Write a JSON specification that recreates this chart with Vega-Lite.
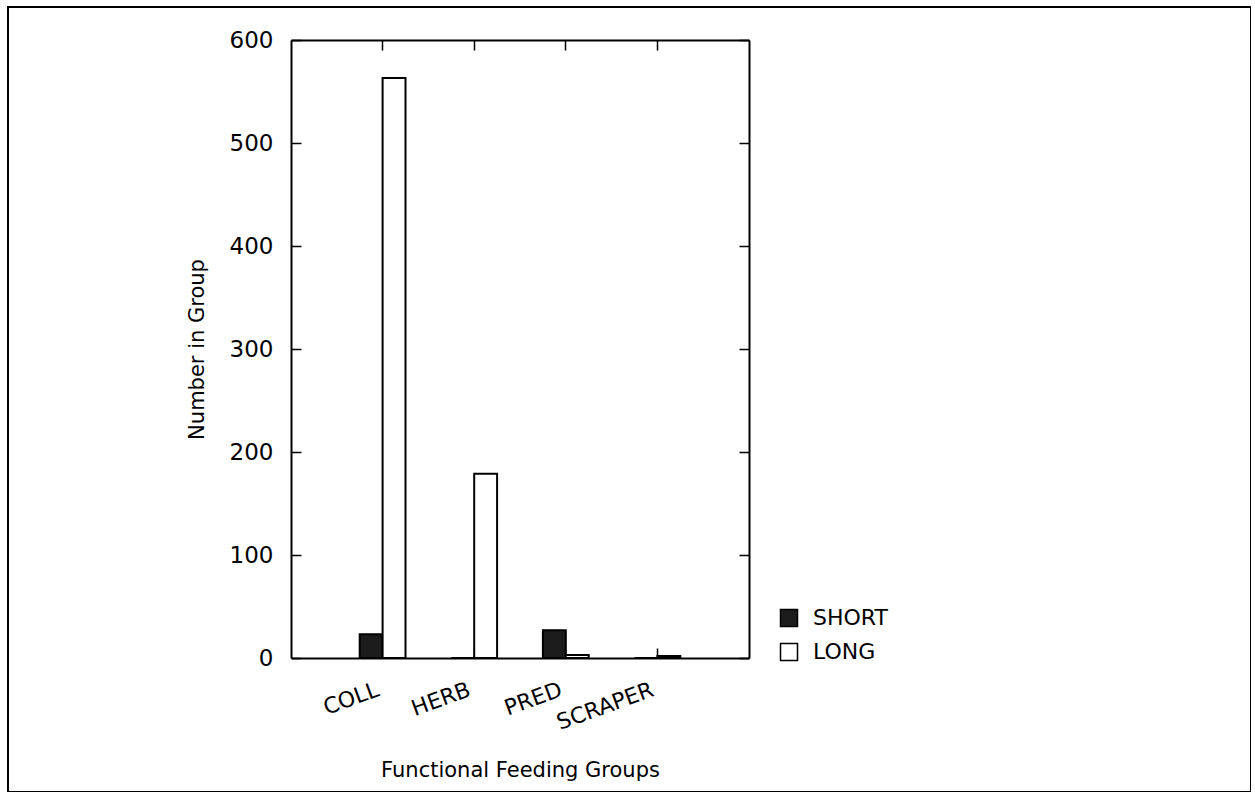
{
  "$schema": "https://vega.github.io/schema/vega-lite/v6.json",
  "width": 1243,
  "height": 785,
  "autosize": {"type": "none"},
  "padding": {"left": 8, "top": 7, "right": 0, "bottom": 0},
  "background": "white",
  "config": {
    "view": {"stroke": "black", "strokeWidth": 2},
    "font": "DejaVu Sans",
    "axis": {
      "domainColor": "black",
      "domainWidth": 2,
      "tickColor": "black",
      "tickWidth": 1.5,
      "grid": false,
      "labelColor": "black",
      "titleColor": "black",
      "labelFont": "DejaVu Sans",
      "titleFont": "DejaVu Sans",
      "titleFontWeight": "normal"
    },
    "legend": {
      "labelFont": "DejaVu Sans",
      "labelColor": "black"
    }
  },
  "data": {
    "values": [
      {"group": "COLL", "length": "SHORT", "count": 23},
      {"group": "COLL", "length": "LONG", "count": 563},
      {"group": "HERB", "length": "SHORT", "count": 0},
      {"group": "HERB", "length": "LONG", "count": 179},
      {"group": "PRED", "length": "SHORT", "count": 27},
      {"group": "PRED", "length": "LONG", "count": 3},
      {"group": "SCRAPER", "length": "SHORT", "count": 0},
      {"group": "SCRAPER", "length": "LONG", "count": 2}
    ]
  },
  "resolve": {"axis": {"x": "independent", "y": "independent"}},
  "layer": [
    {
      "mark": {"type": "bar", "stroke": "black", "strokeWidth": 2},
      "encoding": {
        "x": {
          "field": "group",
          "type": "nominal",
          "sort": ["COLL", "HERB", "PRED", "SCRAPER"],
          "scale": {"domain": ["COLL", "HERB", "PRED", "SCRAPER"], "range": [283, 741], "paddingInner": 0, "paddingOuter": 0.5},
          "axis": {
            "orient": "bottom",
            "offset": -134,
            "title": "Functional Feeding Groups",
            "titleFontSize": 21,
            "titlePadding": 26,
            "labelAngle": -20,
            "labelAlign": "right",
            "labelBaseline": "top",
            "labelFontSize": 22,
            "labelOffset": -8,
            "tickSize": -10,
            "labelPadding": 31
          }
        },
        "xOffset": {
          "field": "length",
          "type": "nominal",
          "scale": {"domain": ["SHORT", "LONG"], "paddingInner": 0, "paddingOuter": 1}
        },
        "y": {
          "field": "count",
          "type": "quantitative",
          "scale": {"domain": [0, 600], "range": [651, 33], "nice": false},
          "axis": {
            "orient": "left",
            "offset": -283,
            "values": [0, 100, 200, 300, 400, 500, 600],
            "title": "Number in Group",
            "titleFontSize": 21,
            "titlePadding": 22,
            "labelFontSize": 23,
            "tickSize": -10,
            "labelPadding": 28
          }
        },
        "color": {
          "field": "length",
          "type": "nominal",
          "scale": {"domain": ["SHORT", "LONG"], "range": ["#1c1c1c", "white"]},
          "legend": {
            "title": null,
            "orient": "none",
            "legendX": 770,
            "legendY": 600,
            "symbolType": "square",
            "symbolSize": 289,
            "symbolStrokeColor": "black",
            "symbolStrokeWidth": 1.5,
            "labelFontSize": 22,
            "labelOffset": 13,
            "rowPadding": 10,
            "padding": 0
          }
        }
      }
    },
    {
      "mark": {"type": "bar", "opacity": 0},
      "encoding": {
        "x": {
          "field": "group",
          "type": "nominal",
          "axis": {
            "orient": "top",
            "offset": -33,
            "title": null,
            "labels": false,
            "tickSize": -10
          }
        },
        "y": {
          "field": "count",
          "type": "quantitative",
          "axis": {
            "orient": "right",
            "offset": -502,
            "values": [0, 100, 200, 300, 400, 500, 600],
            "title": null,
            "labels": false,
            "tickSize": -10
          }
        }
      }
    }
  ]
}
